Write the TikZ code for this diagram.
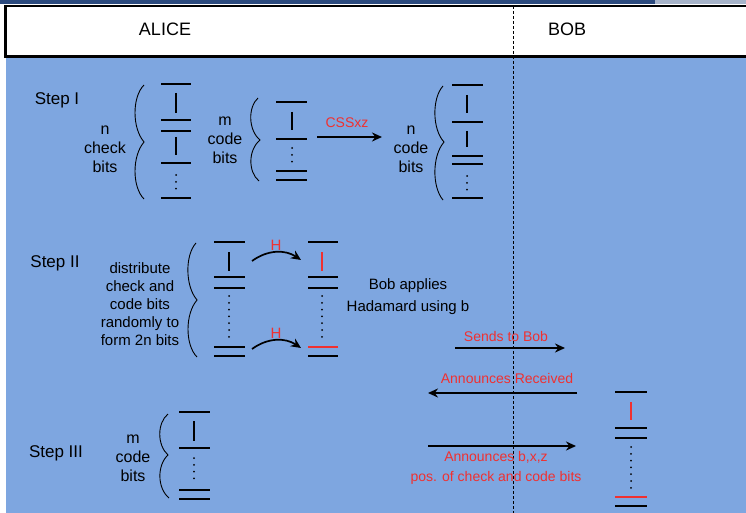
\documentclass[tikz,border=0pt]{standalone}
\usepackage{fontspec}
\setmainfont{Liberation Sans}
\usetikzlibrary{arrows.meta}

\definecolor{bgblue}{HTML}{7EA6E0}
\definecolor{lblred}{HTML}{F03030}
\definecolor{topbar}{HTML}{2B4A7E}
\definecolor{sidebar}{HTML}{A7B4CA}

\tikzset{
  bit/.style={line width=1.8pt},
  redbit/.style={line width=1.8pt, draw=lblred},
  dotcol/.style={line width=2pt, line cap=round, dash pattern=on 0pt off 6.8pt},
  brace/.style={line width=0.9pt},
  msg/.style={line width=1.7pt, -{Stealth[length=10pt,width=9pt]}},
  redlbl/.style={text=lblred, font=\fontsize{14}{17}\selectfont},
  steplbl/.style={font=\fontsize{17}{20}\selectfont},
  desc/.style={align=center, font=\fontsize{16}{19}\selectfont},
}

\begin{document}
\begin{tikzpicture}[x=1pt,y=-1pt]
            \useasboundingbox (0,0) rectangle (746,513);

            % frame and lanes
            \fill[white] (0,0) rectangle (746,513);
            \fill[topbar] (0,0) rectangle (655,4);
            \fill[sidebar] (655,0) rectangle (746,4);
            \fill[bgblue] (6,58) rectangle (746,513);
            \draw[line width=2pt] (5.5,6) -- (746,6);
            \draw[line width=3pt] (746,56.5) -- (5.5,56.5) -- (5.5,5);
            \draw[line width=0.8pt, dash pattern=on 3pt off 2pt] (513,6) -- (513,513);

            \node[font=\fontsize{18}{21}\selectfont] (alice) at (165,29) {ALICE};
            \node[font=\fontsize{18}{21}\selectfont] (bob) at (567,29) {BOB};

            % Step I
            \node[steplbl] (stepI) at (57,100) {Step I};
            \node[desc] (nchk) at (105,149) {n\\check\\bits};
            \draw[brace] (144,85) .. controls (132,97) and (132,128) .. (144,142)
                .. controls (132,156) and (132,187) .. (144,199);
            \draw[bit] (161,84) -- (191,84) (161,120) -- (191,120) (161,131) -- (191,131)
                (161,163) -- (191,163) (161,198) -- (191,198)
                (176,93) -- (176,113) (176,137) -- (176,155);
            \draw[dotcol] (176,175) -- (176,190);

            \node[desc] (mcode) at (225,140) {m\\code\\bits};
            \draw[brace] (258,98) .. controls (248,107) and (248,130) .. (260,140)
                .. controls (248,150) and (248,172) .. (259,181);
            \draw[bit] (276,102) -- (307,102) (276,139) -- (307,139) (276,171) -- (307,171)
                (276,180) -- (307,180) (292,112) -- (292,130);
            \draw[dotcol] (292,148) -- (292,163);

            \coordinate (css-s) at (317,137);
            \coordinate (css-e) at (382,137);
            \draw[msg] (css-s) -- (css-e);
            \node[redlbl] (css) at (347,123) {CSSxz};

            \node[desc] (ncode) at (411,149) {n\\code\\bits};
            \draw[brace] (443,86) .. controls (432,98) and (432,129) .. (444,142)
                .. controls (432,156) and (432,187) .. (443,200);
            \draw[bit] (452,85) -- (483,85) (452,122) -- (483,122) (452,156) -- (483,156)
                (452,164) -- (483,164) (452,198) -- (483,198)
                (467,95) -- (467,113) (467,131) -- (467,147);
            \draw[dotcol] (467,176) -- (467,191);

            % Step II
            \node[steplbl] (stepII) at (55,263) {Step II};
            \node[align=center, font=\fontsize{15}{18}\selectfont] (distr) at (140,304)
                {distribute\\check and\\code bits\\randomly to\\form 2n bits};
            \draw[brace] (196,243) .. controls (185,255) and (185,286) .. (197,300)
                .. controls (185,314) and (185,345) .. (197,357);
            \draw[bit] (214,242) -- (245,242) (214,277) -- (245,277) (214,288) -- (245,288)
                (214,347) -- (245,347) (214,356) -- (245,356) (229,252) -- (229,271);
            \draw[dotcol] (229,296) -- (229,339);

            \draw[bit] (308,242) -- (338,242) (308,277) -- (338,277) (308,288) -- (338,288)
                (308,356) -- (338,356);
            \draw[redbit] (308,347) -- (338,347) (322,252) -- (322,271);
            \draw[dotcol] (322,296) -- (322,339);

            \coordinate (h1-s) at (252,261);
            \coordinate (h1-e) at (301,260);
            \coordinate (h2-s) at (252,349);
            \coordinate (h2-e) at (301,348);
            \draw[msg] (h1-s) to[bend left=35] (h1-e);
            \draw[msg] (h2-s) to[bend left=35] (h2-e);
            \node[redlbl, font=\fontsize{15}{18}\selectfont] (h1) at (276,245) {H};
            \node[redlbl, font=\fontsize{15}{18}\selectfont] (h2) at (276,333) {H};

            \node[align=center, font=\fontsize{15}{22}\selectfont] (had) at (408,297)
                {Bob applies\\Hadamard using b};

            \coordinate (send-s) at (455,348);
            \coordinate (send-e) at (565,348);
            \draw[msg] (send-s) -- (send-e);
            \node[redlbl] (send) at (506,336) {Sends to Bob};

            \coordinate (recv-s) at (577,393);
            \coordinate (recv-e) at (428,393);
            \draw[msg] (recv-s) -- (recv-e);
            \node[redlbl] (recv) at (507,378) {Announces Received};

            % Step III
            \node[steplbl] (stepIII) at (56,453) {Step III};
            \node[desc] (mcode3) at (133,458) {m\\code\\bits};
            \draw[brace] (168,414) .. controls (157,423) and (157,445) .. (168,455)
                .. controls (157,465) and (157,488) .. (169,498);
            \draw[bit] (179,412) -- (210,412) (179,448) -- (210,448) (179,490) -- (210,490)
                (179,499) -- (210,499) (194,421) -- (194,441);
            \draw[dotcol] (194,458) -- (194,480);

            \coordinate (ann-s) at (428,446);
            \coordinate (ann-e) at (576,446);
            \draw[msg] (ann-s) -- (ann-e);
            \node[redlbl] (ann) at (496,457) {Announces b,x,z};
            \node[redlbl] (pos) at (496,478) {pos. of check and code bits};

            \draw[bit] (615,392) -- (647,392) (615,428) -- (647,428) (615,438) -- (647,438)
                (615,506) -- (647,506);
            \draw[redbit] (615,497) -- (647,497) (631,402) -- (631,420);
            \draw[dotcol] (631,447) -- (631,489);
        \end{tikzpicture}
\end{document}
